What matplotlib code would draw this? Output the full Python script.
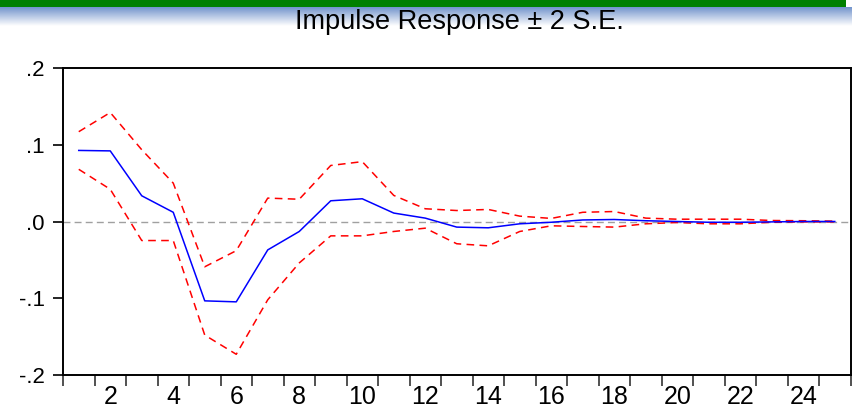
import numpy as np
import matplotlib
matplotlib.use("Agg")
import matplotlib.pyplot as plt
from matplotlib.patches import Rectangle

plt.rcParams['font.family'] = ['Liberation Sans Narrow', 'Liberation Sans', 'DejaVu Sans']

periods = np.arange(1, 26)
response = [0.0926, 0.092, 0.0335, 0.012, -0.1034, -0.1047, -0.037, -0.013,
            0.027, 0.0296, 0.011, 0.0044, -0.0073, -0.0082, -0.003, -0.001,
            0.002, 0.0026, 0.001, 0.0, -0.001, -0.001, -0.0005, 0.0, 0.0]
upper = [0.117, 0.142, 0.0935, 0.050, -0.059, -0.038, 0.0305, 0.029,
         0.073, 0.078, 0.034, 0.0166, 0.0143, 0.0157, 0.007, 0.004,
         0.012, 0.013, 0.0044, 0.003, 0.003, 0.003, 0.0013, 0.001, 0.0005]
lower = [0.068, 0.042, -0.0248, -0.0248, -0.148, -0.173, -0.102, -0.054,
         -0.0187, -0.0187, -0.013, -0.0087, -0.029, -0.0317, -0.013, -0.0056,
         -0.0065, -0.0073, -0.003, -0.0013, -0.003, -0.003, -0.001, -0.0005, -0.0005]
xlabels = [2, 4, 6, 8, 10, 12, 14, 16, 18, 20, 22, 24]
ylabels = ['-.2', '-.1', '.0', '.1', '.2']

fig = plt.figure(figsize=(8.57, 4.16), dpi=100)

# green header strip with a soft blue shadow underneath
band = fig.add_axes([0, 0, 1, 1], zorder=-1)
band.set_xlim(0, 857)
band.set_ylim(416, 0)
band.axis('off')
shade = np.linspace(0, 1, 60)[:, None]
c0 = np.array([0.45, 0.58, 0.80])
grad = c0 * (1 - shade[..., None]) + np.ones(3) * shade[..., None]
grad = np.repeat(grad, 2, axis=1)
band.imshow(grad, extent=(0, 852, 26, 7), aspect='auto', interpolation='bilinear')
band.add_patch(Rectangle((0, 0), 846, 7, color='#008000', lw=0))

ax = fig.add_axes([63 / 857, 1 - 375 / 416, 787.5 / 857, 307 / 416])
ax.axhline(0, color='#a0a0a0', lw=1.0, ls=(0, (5, 3)))
ax.plot(periods, upper, color='#ff0000', lw=1.1, ls=(0, (5, 3.5)))
ax.plot(periods, lower, color='#ff0000', lw=1.1, ls=(0, (5, 3.5)))
ax.plot(periods, response, color='#0000ff', lw=1.1)

ax.set_xlim(0.5, 25.5)
ax.set_ylim(-0.2, 0.2)
ax.set_yticks([-0.2, -0.1, 0.0, 0.1, 0.2])
ax.set_yticklabels(ylabels, fontsize=16)
ax.set_xticks(np.arange(0.5, 26, 1.0))
ax.set_xticklabels([])
ax.set_xticks(xlabels, minor=True)
ax.set_xticklabels([str(v) for v in xlabels], minor=True, fontsize=18)
ax.tick_params(axis='x', which='major', direction='out', length=8, width=1.2, color='#333333')
ax.tick_params(axis='x', which='minor', length=0, pad=7)
ax.tick_params(axis='y', direction='out', length=7, width=1.2, pad=6)
for s in ax.spines.values():
    s.set_linewidth(1.4)

fig.text(459 / 857, 1 - 22 / 416, 'Impulse Response \u00b1 2 S.E.', ha='center', va='center',
         fontsize=19.5)

fig.savefig('out.png', dpi=100)
